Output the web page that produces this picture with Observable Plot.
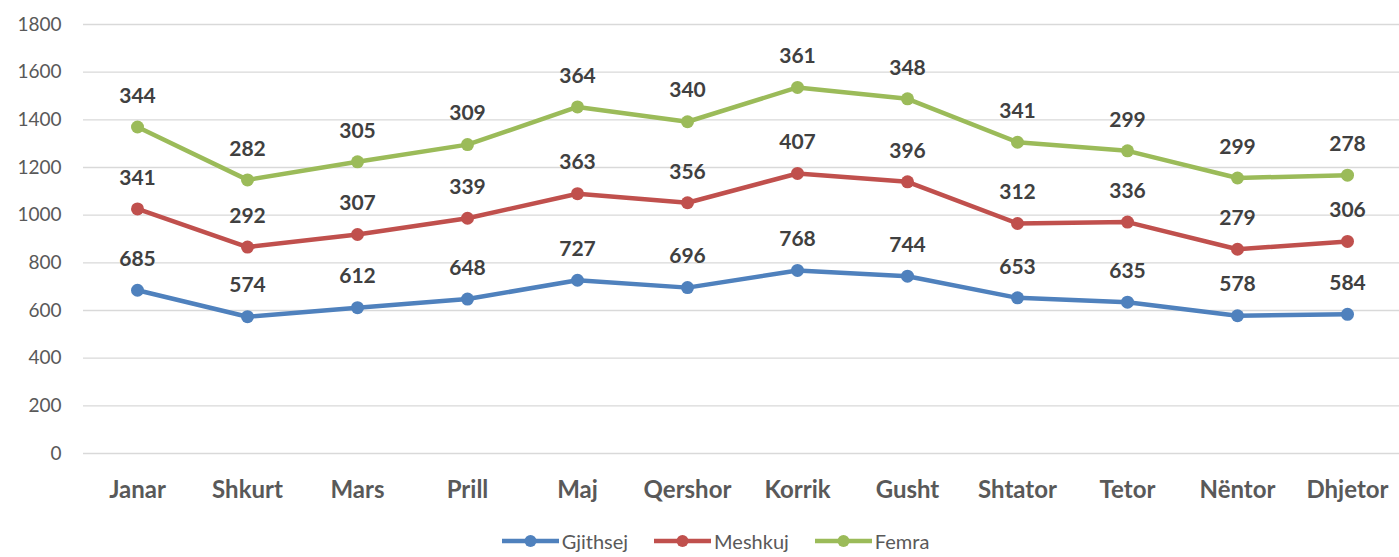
<!DOCTYPE html>
<html><head><meta charset="utf-8">
<script src="https://cdn.jsdelivr.net/npm/d3@7"></script>
<script src="https://cdn.jsdelivr.net/npm/@observablehq/plot@0.6"></script>
<style>
body{margin:0;background:#fff;font-family:Lato,"Open Sans",sans-serif;}
#legend{display:flex;justify-content:center;gap:26px;margin-top:14px;padding-left:32px;font-size:20px;color:#595959;}
.item{display:flex;align-items:center;gap:3px;}
</style></head>
<body><div id="chart"></div><div id="legend"></div>
<script>
const months = ["Janar","Shkurt","Mars","Prill","Maj","Qershor","Korrik","Gusht","Shtator","Tetor","Nëntor","Dhjetor"];
const gjithsej = [685,574,612,648,727,696,768,744,653,635,578,584];
const meshkuj = [341,292,307,339,363,356,407,396,312,336,279,306];
const femra = [344,282,305,309,364,340,361,348,341,299,299,278];
const seriesNames = ["Gjithsej","Meshkuj","Femra"];
const colors = ["#4F81BD","#C0504D","#9BBB59"];
const yTicks = [0,200,400,600,800,1000,1200,1400,1600,1800];

const rows = [];
months.forEach((m,i)=>{
  let acc = 0;
  [gjithsej,meshkuj,femra].forEach((arr,k)=>{
    acc += arr[i];
    rows.push({month:m, series:seriesNames[k], value:arr[i], top:acc});
  });
});

const chart = Plot.plot({
  width:1399, height:515,
  marginLeft:83, marginRight:0, marginTop:24, marginBottom:62,
  style:{fontFamily:"Lato, 'Open Sans', sans-serif", background:"#fff"},
  x:{type:"point", domain:months, range:[137,1347], padding:0, label:null},
  y:{domain:[0,1800], range:[453,24], label:null},
  color:{domain:seriesNames, range:colors},
  marks:[
    Plot.ruleY(yTicks,{stroke:"#D9D9D9", strokeWidth:1.3}),
    Plot.axisY({ticks:yTicks, tickFormat:d=>String(d), tickSize:0, tickPadding:22, fontSize:19, fill:"#595959", label:null}),
    Plot.axisX({tickSize:0, tickPadding:27, fontSize:24, fontWeight:"bold", fill:"#595959", label:null}),
    Plot.line(rows,{x:"month", y:"top", z:"series", stroke:"series", strokeWidth:4.5}),
    Plot.dot(rows,{x:"month", y:"top", fill:"series", r:6.5}),
    Plot.text(rows,{x:"month", y:"top", text:d=>String(d.value), dy:-31, fontSize:21, fontWeight:"bold", fill:"#404040"})
  ]
});
document.getElementById("chart").appendChild(chart);

const leg = document.getElementById("legend");
seriesNames.forEach((s,i)=>{
  const it = document.createElement("div"); it.className="item";
  it.innerHTML = `<svg width="57" height="14"><line x1="0" y1="7" x2="57" y2="7" stroke="${colors[i]}" stroke-width="4.5"/><circle cx="28.5" cy="7" r="6" fill="${colors[i]}"/></svg><span>${s}</span>`;
  leg.appendChild(it);
});
</script></body></html>
